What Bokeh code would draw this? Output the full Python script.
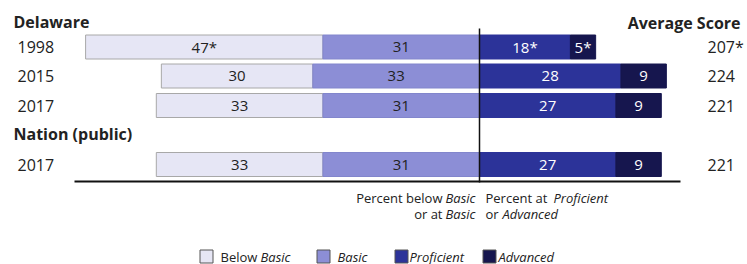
from bokeh.plotting import figure
from bokeh.models import Range1d, ColumnDataSource
from bokeh.core.properties import value
from bokeh.embed import file_html
from bokeh.resources import INLINE

# ---- data ----
years = ["1998", "2015", "2017", "2017"]
below_basic = [47, 30, 33, 33]
basic = [31, 33, 31, 31]
proficient = [18, 28, 27, 27]
advanced = [5, 9, 9, 9]
below_labels = ["47*", "30", "33", "33"]
basic_labels = ["31", "33", "31", "31"]
prof_labels = ["18*", "28", "27", "27"]
adv_labels = ["5*", "9", "9", "9"]
scores = ["207*", "224", "221", "221"]
group_titles = ["Delaware", "Nation (public)"]
legend_names = ["Below Basic", "Basic", "Proficient", "Advanced"]

C_BB, C_B, C_P, C_A = "#e6e6f5", "#8c8ed6", "#2c3399", "#16164e"
FONT = value("Open Sans")
TXT = "#222222"

W, H = 747, 264
OFF = 0                # page offset of canvas
ZERO_PX = 479 - OFF    # canvas x of the 0 line
SCALE = 5.05           # px per percent


def px(xp):  # page x -> data x
    return (xp - OFF - ZERO_PX) / SCALE


def py(yp):  # page y -> data y (pixel based, reversed)
    return yp - OFF


x0 = -ZERO_PX / SCALE
p = figure(width=W, height=H, output_backend="svg", toolbar_location=None,
           x_range=Range1d(x0, x0 + W / SCALE), y_range=Range1d(H, 0),
           min_border=0)
p.axis.visible = False
p.grid.visible = False
p.outline_line_color = None
p.background_fill_color = "white"

row_y = [py(46.5), py(75.5), py(105), py(164)]
bh = 24

src = ColumnDataSource(dict(
    y=row_y,
    bb_l=[-(a + b) for a, b in zip(below_basic, basic)],
    b_l=[-b for b in basic],
    zero=[0] * 4,
    p_r=proficient,
    a_r=[a + b for a, b in zip(proficient, advanced)],
    bb_c=[-(a / 2 + b) for a, b in zip(below_basic, basic)],
    b_c=[-b / 2 for b in basic],
    p_c=[v / 2 for v in proficient],
    a_c=[a + b / 2 for a, b in zip(proficient, advanced)],
    bbl=below_labels, bl=basic_labels, pl=prof_labels, al=adv_labels,
    yr=years, sc=scores,
    yr_x=[px(17)] * 4, sc_x=[px(707)] * 4,
))

p.hbar(y="y", left="bb_l", right="b_l", height=bh, fill_color=C_BB,
       line_color="#a8a8a8", line_width=1, source=src)
p.hbar(y="y", left="b_l", right="zero", height=bh, fill_color=C_B,
       line_color="#8286cc", line_width=1, source=src)
p.hbar(y="y", left="zero", right="p_r", height=bh, fill_color=C_P,
       line_color=C_P, line_width=1, source=src)
p.hbar(y="y", left="p_r", right="a_r", height=bh, fill_color=C_A,
       line_color=C_A, line_width=1, source=src)

tk = dict(text_font=FONT, text_font_size="15px", text_align="center",
          text_baseline="middle", source=src)
p.text(x="bb_c", y="y", text="bbl", text_color=TXT, **tk)
p.text(x="b_c", y="y", text="bl", text_color=TXT, **tk)
p.text(x="p_c", y="y", text="pl", text_color="white", **tk)
p.text(x="a_c", y="y", text="al", text_color="white", **tk)

p.text(x="yr_x", y="y", text="yr", text_color=TXT, text_font=FONT,
       text_font_size="16px", text_baseline="middle", source=src)
p.text(x="sc_x", y="y", text="sc", text_color=TXT, text_font=FONT,
       text_font_size="16px", text_baseline="middle", source=src)

# headings
p.text(x=[px(13), px(13)], y=[py(21), py(133)], text=group_titles,
       text_font=FONT, text_font_style="bold", text_font_size="16px",
       text_color=TXT, text_baseline="middle")
p.text(x=[px(740)], y=[py(22)], text=["Average Score"], text_font=FONT,
       text_font_style="bold", text_font_size="16px", text_color=TXT,
       text_baseline="middle", text_align="right")

# axis lines
p.segment(x0=[px(74)], y0=[py(181)], x1=[px(680)], y1=[py(181)],
          line_color="#111111", line_width=2)
p.segment(x0=[0], y0=[py(28)], x1=[0], y1=[py(182)],
          line_color="#111111", line_width=1.5)

# axis captions
sm = dict(text_font=FONT, text_font_size="13px", text_color=TXT,
          text_baseline="middle")
p.text(x=[px(442), px(442)], y=[py(197), py(213)], text=["Percent below", "or at"],
       text_align="right", **sm)
p.text(x=[px(445), px(445)], y=[py(197), py(213)], text=["Basic", "Basic"],
       text_font_style="italic", text_align="left", **sm)
p.text(x=[px(485), px(485)], y=[py(197), py(213)], text=["Percent at", "or"],
       text_align="left", **sm)
p.text(x=[px(553), px(502)], y=[py(197), py(213)], text=["Proficient", "Advanced"],
       text_font_style="italic", text_align="left", **sm)

# legend
ly = py(256)
box_x = [px(206), px(323), px(401), px(489)]
p.rect(x=box_x, y=[ly] * 4, width=13 / SCALE, height=13,
       fill_color=[C_BB, C_B, C_P, C_A], line_color="#555555", line_width=1)
p.text(x=[px(220)], y=[ly], text=["Below"], **sm)
p.text(x=[px(260), px(337), px(409), px(498)], y=[ly] * 4,
       text=["Basic", "Basic", "Proficient", "Advanced"],
       text_font_style="italic", **sm)

open("out.html", "w").write(file_html(p, INLINE))
